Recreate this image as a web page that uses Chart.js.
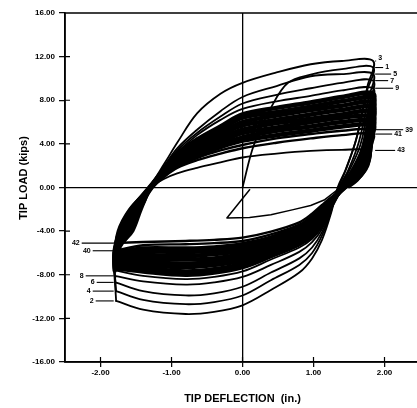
<!DOCTYPE html>
<html>
<head>
<meta charset="utf-8">
<script src="https://cdn.jsdelivr.net/npm/chart.js@4.4.1/dist/chart.umd.min.js"></script>
<style>
html, body { margin: 0; padding: 0; background: #fff; overflow: hidden; }
#wrap { position: absolute; left: 0; top: 0; width: 422px; height: 408px; }
</style>
</head>
<body>
<div id="wrap"><canvas id="hysteresisChart"></canvas></div>
<script>
// Tick values
const xTickValues = [-2, -1, 0, 1, 2];
const yTickValues = [-16, -12, -8, -4, 0, 4, 8, 12, 16];

// Load-deflection paths: [tip deflection (in.), tip load (kips)]
const initialCycle = [[0.1,-0.2],[-0.22,-2.8],[0.1,-2.75],[0.4,-2.5],[0.7,-2.05],[0.96,-1.65],[1.15,-1.15],[1.3,-0.4],[1.38,0]];
const cycles01_02 = [[0,0],[0.16,3.9],[0.4,7.3],[0.64,9.6],[0.96,10.35],[1.4,10.85],[1.84,11.0],[1.75,8.8],[1.6,4.4],[1.45,1.6],[1.34,0],[1.25,-2.3],[1.12,-4.8],[0.98,-6.5],[0.8,-7.8],[0.4,-9.4],[0,-10.8],[-0.4,-11.4],[-0.8,-11.6],[-1.4,-11.2],[-1.78,-10.4]];
const cycles03_04 = [[-1.78,-10.4],[-1.81,-6.5],[-1.76,-4.0],[-1.6,-2.0],[-1.32,0],[-1.1,2.2],[-0.92,4.1],[-0.64,6.8],[-0.31,8.6],[0,9.6],[0.48,10.55],[0.96,11.3],[1.4,11.6],[1.84,11.6],[1.76,9.3],[1.61,4.6],[1.46,1.7],[1.35,0],[1.25,-2.1],[1.12,-4.4],[0.98,-6.0],[0.8,-7.1],[0.4,-8.5],[0,-9.9],[-0.4,-10.5],[-0.8,-10.7],[-1.4,-10.3],[-1.78,-9.5]];
const cycles05_06 = [[-1.78,-9.5],[-1.81,-6.3],[-1.75,-4.0],[-1.59,-2.0],[-1.32,0],[-1.1,2.0],[-0.92,3.6],[-0.64,5.3],[-0.31,7.0],[0,8.3],[0.48,9.3],[0.96,10.2],[1.4,10.4],[1.84,10.4],[1.78,8.3],[1.64,4.2],[1.49,1.6],[1.36,0],[1.25,-2.0],[1.12,-4.1],[0.98,-5.5],[0.8,-6.5],[0.4,-7.8],[0,-9.1],[-0.4,-9.7],[-0.8,-9.9],[-1.4,-9.5],[-1.79,-8.7]];
const cycles07_08 = [[-1.79,-8.7],[-1.81,-6.0],[-1.74,-4.0],[-1.58,-2.0],[-1.31,0],[-1.1,1.9],[-0.92,3.4],[-0.64,5.0],[-0.31,6.5],[0,7.7],[0.48,8.5],[0.96,9.1],[1.4,9.6],[1.84,9.8],[1.79,7.8],[1.66,3.9],[1.5,1.5],[1.37,0],[1.25,-1.9],[1.12,-3.8],[0.98,-5.0],[0.8,-5.9],[0.4,-7.1],[0,-8.2],[-0.4,-8.7],[-0.8,-8.9],[-1.4,-8.6],[-1.8,-8.1]];
const cycles09_10 = [[-1.8,-8.1],[-1.8,-5.9],[-1.73,-4.0],[-1.57,-2.0],[-1.31,0],[-1.1,1.8],[-0.92,3.2],[-0.64,4.8],[-0.31,6.2],[0,7.2],[0.48,7.9],[0.96,8.4],[1.4,8.9],[1.84,9.1],[1.8,7.3],[1.68,3.6],[1.52,1.4],[1.38,0],[1.25,-1.8],[1.12,-3.6],[0.98,-4.7],[0.8,-5.5],[0.4,-6.6],[0,-7.7],[-0.4,-8.2],[-0.8,-8.4],[-1.4,-8.1],[-1.8,-7.6]];
// the dense band of cycles 11-38, drawn with a few representative loops
const cycles11_12 = [[-1.8,-7.6],[-1.8,-5.8],[-1.72,-4.0],[-1.56,-2.0],[-1.31,0],[-1.1,1.7],[-0.92,3.1],[-0.64,4.4],[-0.31,5.6],[0,6.7],[0.48,7.3],[0.96,7.8],[1.4,8.3],[1.84,8.6],[1.8,6.9],[1.69,3.4],[1.53,1.3],[1.39,0],[1.25,-1.7],[1.12,-3.4],[0.98,-4.4],[0.8,-5.2],[0.4,-6.3],[0,-7.3],[-0.4,-7.8],[-0.8,-8.0],[-1.4,-7.7],[-1.8,-7.4]];
const cycles15_16 = [[-1.8,-7.4],[-1.79,-5.7],[-1.7,-4.0],[-1.55,-2.0],[-1.3,0],[-1.1,1.6],[-0.92,3.0],[-0.64,4.2],[-0.31,5.3],[0,6.4],[0.48,6.9],[0.96,7.4],[1.4,7.9],[1.84,8.2],[1.81,6.6],[1.7,3.3],[1.54,1.2],[1.4,0],[1.25,-1.6],[1.12,-3.2],[0.98,-4.2],[0.8,-5.0],[0.4,-6.1],[0,-7.0],[-0.4,-7.5],[-0.8,-7.7],[-1.4,-7.4],[-1.8,-7.2]];
const cycles19_20 = [[-1.8,-7.2],[-1.78,-5.6],[-1.68,-4.0],[-1.53,-2.0],[-1.3,0],[-1.1,1.55],[-0.92,2.8],[-0.64,4.0],[-0.31,5.0],[0,6.0],[0.48,6.6],[0.96,7.1],[1.4,7.5],[1.84,7.8],[1.81,6.2],[1.71,3.1],[1.55,1.2],[1.4,0],[1.25,-1.5],[1.12,-3.0],[0.98,-4.0],[0.8,-4.8],[0.4,-5.8],[0,-6.7],[-0.4,-7.1],[-0.8,-7.3],[-1.4,-7.1],[-1.8,-7.0]];
const cycles23_24 = [[-1.8,-7.0],[-1.77,-5.5],[-1.66,-4.0],[-1.52,-2.0],[-1.3,0],[-1.1,1.45],[-0.92,2.7],[-0.64,3.8],[-0.31,4.8],[0,5.7],[0.48,6.2],[0.96,6.7],[1.4,7.1],[1.84,7.4],[1.82,5.9],[1.72,3.0],[1.56,1.1],[1.41,0],[1.25,-1.4],[1.12,-2.8],[0.98,-3.7],[0.8,-4.5],[0.4,-5.6],[0,-6.4],[-0.4,-6.8],[-0.8,-7.0],[-1.4,-6.8],[-1.8,-6.8]];
const cycles27_28 = [[-1.8,-6.8],[-1.76,-5.4],[-1.64,-4.0],[-1.5,-2.0],[-1.29,0],[-1.1,1.4],[-0.92,2.5],[-0.64,3.6],[-0.31,4.5],[0,5.3],[0.48,5.9],[0.96,6.3],[1.4,6.7],[1.84,7.0],[1.82,5.6],[1.73,2.8],[1.57,1.1],[1.42,0],[1.25,-1.35],[1.12,-2.6],[0.98,-3.5],[0.8,-4.3],[0.4,-5.3],[0,-6.1],[-0.4,-6.5],[-0.8,-6.6],[-1.4,-6.5],[-1.8,-6.6]];
const cycles31_32 = [[-1.8,-6.6],[-1.74,-5.3],[-1.62,-4.0],[-1.49,-2.0],[-1.29,0],[-1.1,1.3],[-0.92,2.4],[-0.64,3.3],[-0.31,4.2],[0,5.0],[0.48,5.5],[0.96,6.0],[1.4,6.4],[1.84,6.5],[1.82,5.2],[1.74,2.6],[1.58,1.0],[1.43,0],[1.25,-1.25],[1.12,-2.4],[0.98,-3.3],[0.8,-4.1],[0.4,-5.1],[0,-5.8],[-0.4,-6.1],[-0.8,-6.3],[-1.4,-6.2],[-1.8,-6.4]];
const cycles35_36 = [[-1.8,-6.4],[-1.72,-5.2],[-1.6,-4.0],[-1.47,-2.0],[-1.29,0],[-1.1,1.25],[-0.92,2.2],[-0.64,3.1],[-0.31,3.9],[0,4.6],[0.48,5.2],[0.96,5.6],[1.4,6.0],[1.84,6.1],[1.82,4.9],[1.75,2.4],[1.59,0.9],[1.43,0],[1.25,-1.15],[1.12,-2.2],[0.98,-3.1],[0.8,-3.9],[0.4,-4.8],[0,-5.5],[-0.4,-5.8],[-0.8,-5.9],[-1.4,-5.9],[-1.8,-6.2]];
const cycles37_38 = [[-1.8,-6.2],[-1.7,-5.1],[-1.58,-4.0],[-1.46,-2.0],[-1.28,0],[-1.1,1.15],[-0.92,2.1],[-0.64,2.9],[-0.31,3.7],[0,4.3],[0.48,4.8],[0.96,5.2],[1.4,5.6],[1.84,5.7],[1.82,4.6],[1.76,2.3],[1.6,0.9],[1.44,0],[1.25,-1.1],[1.12,-2.0],[0.98,-2.8],[0.8,-3.6],[0.4,-4.6],[0,-5.2],[-0.4,-5.5],[-0.8,-5.6],[-1.4,-5.6],[-1.8,-6.0]];
const cycles39_40 = [[-1.8,-6.0],[-1.68,-5.0],[-1.56,-4.0],[-1.44,-2.0],[-1.28,0],[-1.1,1.1],[-0.92,1.9],[-0.64,2.7],[-0.31,3.4],[0,3.9],[0.48,4.5],[0.96,4.9],[1.4,5.2],[1.84,5.3],[1.82,4.2],[1.76,2.1],[1.61,0.8],[1.45,0],[1.25,-1.0],[1.12,-1.8],[0.98,-2.6],[0.8,-3.4],[0.4,-4.3],[0,-4.9],[-0.4,-5.1],[-0.8,-5.2],[-1.4,-5.3],[-1.8,-5.8]];
const cycles41_42 = [[-1.8,-5.8],[-1.66,-4.9],[-1.54,-4.0],[-1.42,-2.0],[-1.28,0],[-1.1,1.0],[-0.92,1.8],[-0.64,2.5],[-0.31,3.1],[0,3.6],[0.48,4.1],[0.96,4.5],[1.4,4.8],[1.84,4.9],[1.82,3.9],[1.77,2.0],[1.62,0.7],[1.45,0],[1.25,-0.9],[1.12,-1.6],[0.98,-2.4],[0.8,-3.2],[0.4,-4.05],[0,-4.6],[-0.4,-4.8],[-0.8,-4.9],[-1.4,-5.0],[-1.8,-5.1]];
const cycle43 = [[-1.8,-5.1],[-1.64,-4.4],[-1.52,-3.0],[-1.38,-1.4],[-1.28,0],[-1.1,0.8],[-0.92,1.3],[-0.64,1.8],[-0.31,2.3],[0,2.75],[0.48,3.1],[0.96,3.35],[1.4,3.45],[1.79,3.4],[1.8,2.6],[1.73,1.5],[1.62,0.6],[1.5,0]];

// Peak labels (cycle numbers) and their peak loads
const posPeakCycle = ['3', '1', '5', '7', '9', '39', '41', '43'];
const posPeakLoad = [11.6, 11.0, 10.4, 9.8, 9.1, 5.3, 4.9, 3.4];
const negPeakCycle = ['2', '4', '6', '8', '40', '42'];
const negPeakLoad = [-10.4, -9.5, -8.7, -8.1, -5.8, -5.1];
const posPeakDefl = 1.84;
const negPeakDefl = -1.8;

// leader line lengths (px) so the labels stagger like the original
const posLeader = [1, 8, 16, 13, 18, 28, 17, 20];
const negLeader = [18, 21, 17, 28, 21, 32];

const denseLoops = [cycles11_12, cycles15_16, cycles19_20, cycles23_24, cycles27_28, cycles31_32, cycles35_36, cycles37_38];
const outerLoops = [cycles01_02, cycles03_04, cycles05_06, cycles07_08, cycles09_10, cycle43];
const innerLoops = [cycles39_40, cycles41_42];

function loopDataset(points, width, tension) {
    return {
        data: points.map(p => ({ x: p[0], y: p[1] })),
        showLine: true,
        pointRadius: 0,
        borderColor: '#000',
        borderWidth: width,
        tension: tension,
        borderJoinStyle: 'round',
        borderCapStyle: 'round',
        fill: false
    };
}

const datasets = [
    ...denseLoops.map(d => loopDataset(d, 4.5, 0.35)),
    ...innerLoops.map(d => loopDataset(d, 2.4, 0.35)),
    ...outerLoops.map(d => loopDataset(d, 1.8, 0.35)),
    loopDataset(initialCycle, 1.5, 0)
];

const FONT = '"Liberation Sans", Arial, sans-serif';
const tickFont = { family: FONT, size: 8, weight: 'bold' };
const zeroOnly = c => (c.tick && c.tick.value === 0) ? '#000' : 'rgba(0,0,0,0)';

// Frame, inner tick marks and the rotated y title
const framePlugin = {
    id: 'frame',
    afterDraw(chart) {
        const { ctx, chartArea: a, scales: { x, y } } = chart;
        ctx.save();
        ctx.strokeStyle = '#000';
        ctx.lineWidth = 1.5;
        ctx.strokeRect(a.left, a.top, a.right - a.left, a.bottom - a.top);
        ctx.lineWidth = 1.2;
        ctx.beginPath();
        yTickValues.slice(1, -1).forEach(v => {
            const py = y.getPixelForValue(v);
            ctx.moveTo(a.left, py);
            ctx.lineTo(a.left + 5, py);
        });
        xTickValues.forEach(v => {
            const px = x.getPixelForValue(v);
            ctx.moveTo(px, a.bottom);
            ctx.lineTo(px, a.bottom - 5);
        });
        ctx.stroke();

        ctx.fillStyle = '#000';
        ctx.font = 'bold 11px ' + FONT;
        ctx.textAlign = 'center';
        ctx.textBaseline = 'middle';
        ctx.translate(24, 178);
        ctx.rotate(-Math.PI / 2);
        ctx.fillText('TIP LOAD (kips)', 0, 0);
        ctx.restore();
    }
};

// Cycle numbers with leader lines at the peaks
const peakLabelPlugin = {
    id: 'peakLabels',
    afterDatasetsDraw(chart) {
        const { ctx, scales: { x, y } } = chart;
        ctx.save();
        ctx.strokeStyle = '#000';
        ctx.fillStyle = '#000';
        ctx.lineWidth = 1.1;
        ctx.font = 'bold 7px ' + FONT;
        ctx.textBaseline = 'middle';

        const px0 = x.getPixelForValue(posPeakDefl) + 2;
        posPeakCycle.forEach((lab, i) => {
            const py = y.getPixelForValue(posPeakLoad[i]);
            ctx.beginPath();
            ctx.moveTo(px0, py);
            ctx.lineTo(px0 + posLeader[i], py);
            ctx.stroke();
            ctx.textAlign = 'left';
            ctx.fillText(lab, px0 + posLeader[i] + 2, py - (i === 0 ? 3 : 0));
        });

        const nx0 = x.getPixelForValue(negPeakDefl) - 1;
        negPeakCycle.forEach((lab, i) => {
            const py = y.getPixelForValue(negPeakLoad[i]);
            ctx.beginPath();
            ctx.moveTo(nx0, py);
            ctx.lineTo(nx0 - negLeader[i], py);
            ctx.stroke();
            ctx.textAlign = 'right';
            ctx.fillText(lab, nx0 - negLeader[i] - 2, py);
        });
        ctx.restore();
    }
};

const hysteresisChart = new Chart(document.getElementById('hysteresisChart'), {
    type: 'scatter',
    data: { datasets: datasets },
    options: {
        responsive: true,
        maintainAspectRatio: false,
        animation: false,
        layout: { padding: { top: 13, right: 2, left: 0, bottom: 0 } },
        plugins: {
            legend: { display: false },
            tooltip: { enabled: false }
        },
        scales: {
            x: {
                type: 'linear',
                min: -2.5,
                max: 2.5,
                afterBuildTicks: s => { s.ticks = xTickValues.map(v => ({ value: v })); },
                afterFit: s => { s.height = 46; },
                ticks: { callback: v => v.toFixed(2), font: tickFont, color: '#000', padding: 1, maxRotation: 0, autoSkip: false },
                grid: { color: zeroOnly, lineWidth: 1.3, tickColor: '#000', tickLength: 5, tickWidth: 1.2 },
                border: { color: '#000', width: 1.5 },
                title: {
                    display: true,
                    text: 'TIP DEFLECTION  (in.)',
                    color: '#000',
                    font: { family: FONT, size: 11, weight: 'bold' },
                    padding: { top: 0, bottom: 2 }
                }
            },
            y: {
                type: 'linear',
                min: -16,
                max: 16,
                afterBuildTicks: s => { s.ticks = yTickValues.map(v => ({ value: v })); },
                afterFit: s => { s.width = 65; },
                ticks: { callback: v => v.toFixed(2), font: tickFont, color: '#000', padding: 4, autoSkip: false },
                grid: { color: zeroOnly, lineWidth: 1.3, tickColor: '#000', tickLength: 6, tickWidth: 1.2 },
                border: { color: '#000', width: 1.5 }
            }
        }
    },
    plugins: [framePlugin, peakLabelPlugin]
});
</script>
</body>
</html>
